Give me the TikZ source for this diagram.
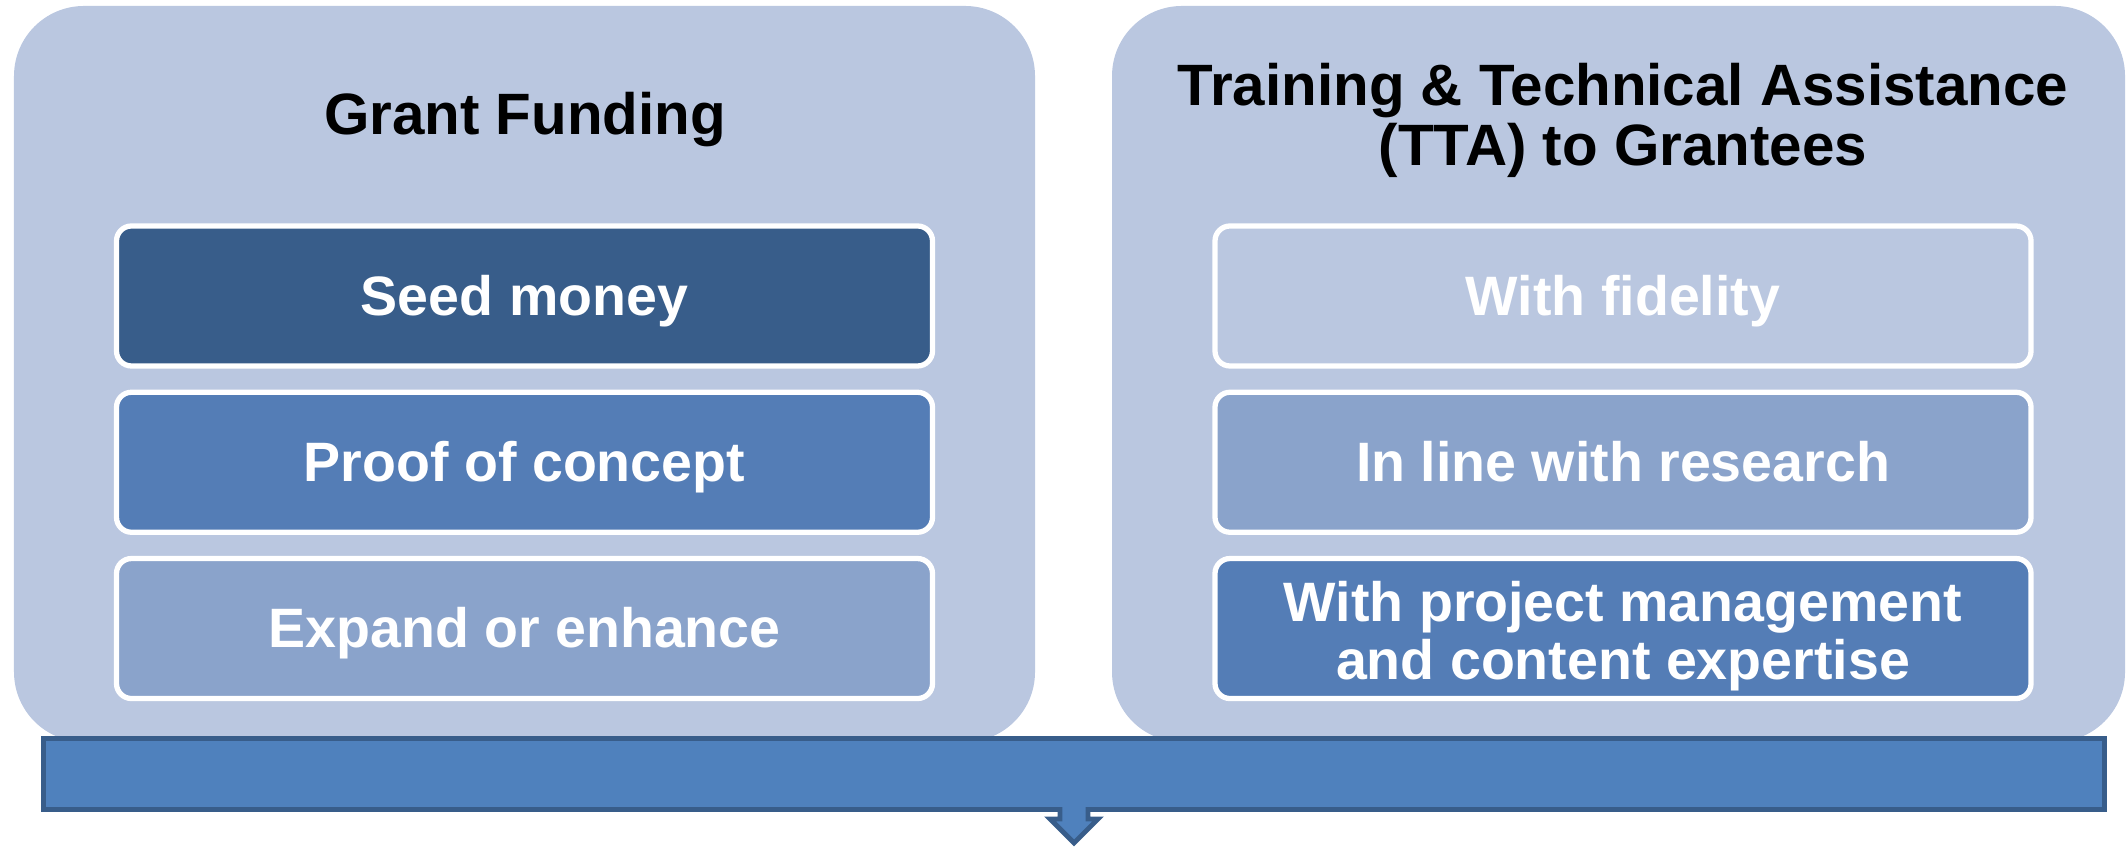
\documentclass[tikz,border=0pt]{standalone}
\usepackage{fontspec}
\setmainfont{Liberation Sans}
\usepackage{xcolor}
\usetikzlibrary{positioning}
\definecolor{panelblue}{RGB}{186,199,224}
\definecolor{darkblue}{RGB}{56,93,138}
\definecolor{midblue}{RGB}{84,125,182}
\definecolor{softblue}{RGB}{138,163,203}
\definecolor{barblue}{RGB}{79,129,189}
\newcommand{\itemstrut}{\rule[-0.21em]{0pt}{1.12em}}
\tikzset{
  panel/.style={
    fill=panelblue,
    rounded corners=0.7cm,
    minimum width=10.21cm,
    minimum height=7.36cm,
    inner sep=0pt
  },
  heading/.style={
    align=center,
    font=\fontsize{16.6}{17.1}\selectfont\bfseries,
    inner sep=0pt
  },
  item/.style={
    draw=white,
    line width=1.5pt,
    rounded corners=0.15cm,
    minimum width=8.16cm,
    minimum height=1.40cm,
    align=center,
    text=white,
    font=\fontsize{15.8}{16.6}\selectfont\bfseries,
    inner sep=0pt,
    execute at begin node=\itemstrut,
    execute at end node=\itemstrut
  },
  callout/.style={fill=barblue, draw=darkblue, line width=1.4pt, line join=miter}
}

\begin{document}
\begin{tikzpicture}[node distance=0.21cm]
  \useasboundingbox (0,0) rectangle (21.28,8.47);
  \node[panel] (grant) at (5.245,4.73) {};
  \node[panel, minimum width=10.13cm] (tta) at (16.185,4.73) {};
  \node[heading, anchor=base] (granthead) at (5.25,7.12) {Grant Funding};
  \node[heading] (ttahead) at (16.23,7.27) {Training \& Technical Assistance\\(TTA) to Grantees};

  \node[item, fill=darkblue] (seed) at (5.245,5.51) {Seed money};
  \node[item, fill=midblue, below=of seed] (proof) {Proof of concept};
  \node[item, fill=softblue, below=of proof] (expand) {Expand or enhance};

  \node[item, fill=panelblue] (fidelity) at (16.23,5.51) {With fidelity};
  \node[item, fill=softblue, below=of fidelity] (research) {In line with research};
  \node[item, fill=midblue, below=of research] (expertise) {\rule{0pt}{1.0em}With project management\\and content expertise};

  % bar with down arrow
  \draw[callout] (0.435,1.085) -- (21.045,1.085) -- (21.045,0.375) -- (10.88,0.375) -- (10.88,0.28) -- (10.98,0.28) -- (10.74,0.04) -- (10.50,0.28) -- (10.60,0.28) -- (10.60,0.375) -- (0.435,0.375) -- cycle;
\end{tikzpicture}
\end{document}
